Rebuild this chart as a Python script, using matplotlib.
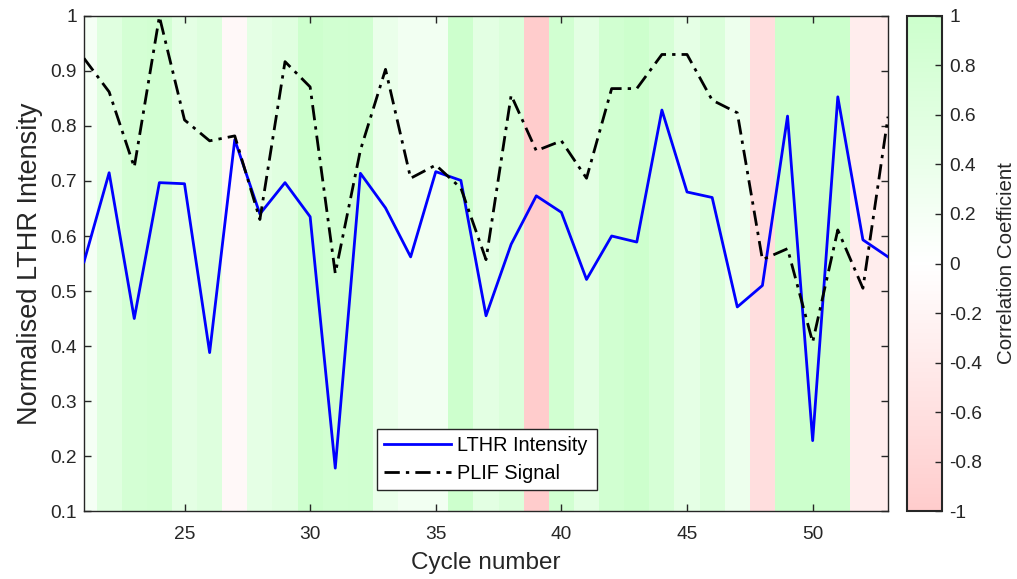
import numpy as np
import matplotlib
matplotlib.use("Agg")
import matplotlib.pyplot as plt
from matplotlib.colors import LinearSegmentedColormap

plt.rcParams['font.family'] = ['Liberation Sans', 'DejaVu Sans']

# Data per combustion cycle
cycles = list(range(21, 54))
lthr = [0.553, 0.715, 0.450, 0.697, 0.695, 0.388, 0.775, 0.640, 0.697, 0.635,
        0.178, 0.714, 0.651, 0.562, 0.717, 0.701, 0.455, 0.585, 0.673, 0.643,
        0.521, 0.600, 0.589, 0.829, 0.680, 0.670, 0.471, 0.510, 0.818, 0.228,
        0.853, 0.593, 0.562]
plif = [0.923, 0.862, 0.725, 0.999, 0.811, 0.773, 0.782, 0.630, 0.917, 0.871,
        0.532, 0.756, 0.903, 0.705, 0.729, 0.687, 0.557, 0.856, 0.755, 0.773,
        0.705, 0.868, 0.868, 0.930, 0.930, 0.847, 0.824, 0.557, 0.577, 0.407,
        0.611, 0.505, 0.817]
corr = [0.20, 0.60, 0.85, 0.88, 0.53, 0.65, -0.14, 0.50, 0.60, 0.98,
        0.90, 0.92, 0.40, 0.25, 0.25, 0.98, 0.55, 0.70, -1.00, 0.90,
        0.55, 0.90, 0.98, 0.80, 0.50, 0.70, 0.35, -0.65, 0.97, 1.00,
        1.00, -0.35, -0.35]

cbar_ticks = [-1, -0.8, -0.6, -0.4, -0.2, 0, 0.2, 0.4, 0.6, 0.8, 1]
y_ticks = [0.1, 0.2, 0.3, 0.4, 0.5, 0.6, 0.7, 0.8, 0.9, 1]
x_ticks = [25, 30, 35, 40, 45, 50]

axis_color = '#262626'
cmap = LinearSegmentedColormap.from_list(
    'redwhitegreen', [(1.0, 0.8, 0.8), (1.0, 1.0, 1.0), (0.8, 1.0, 0.8)])

fig = plt.figure(figsize=(10.17, 5.79), dpi=100)
ax = fig.add_axes([0.0826, 0.1174, 0.7906, 0.855])
cax = fig.add_axes([0.8915, 0.1174, 0.0350, 0.855])

# Background bands, one per cycle, coloured by correlation
c = np.asarray(cycles, dtype=float)
edges = np.concatenate([c - 0.5, [c[-1] + 0.5]])
mesh = ax.pcolormesh(edges, [0.1, 1.0], np.asarray(corr)[np.newaxis, :],
                     cmap=cmap, vmin=-1, vmax=1, shading='flat', zorder=0)

ax.plot(cycles, lthr, color=(0, 0, 1), lw=2.0, label='LTHR Intensity', zorder=3)
ax.plot(cycles, plif, color='black', lw=2.0, ls=(0, (5.5, 2.2, 1.2, 2.2)),
        label='PLIF Signal', zorder=3)

ax.set_xlim(21, 53)
ax.set_ylim(0.1, 1.0)
ax.set_xticks(x_ticks)
ax.set_yticks(y_ticks)
ax.set_yticklabels(['0.1', '0.2', '0.3', '0.4', '0.5', '0.6', '0.7', '0.8', '0.9', '1'])
ax.tick_params(direction='in', length=5, width=1, colors=axis_color,
               labelsize=13.8, top=True, right=True, pad=5)
ax.tick_params(axis='x', pad=11)
for s in ax.spines.values():
    s.set_color(axis_color)
    s.set_linewidth(1.0)
ax.set_xlabel('Cycle number', fontsize=17.5, color=axis_color, labelpad=6)
ax.set_ylabel('Normalised LTHR Intensity', fontsize=19.5, color=axis_color,
              labelpad=5)

leg = ax.legend(loc='lower left', bbox_to_anchor=(0.364, 0.042, 0.274, 0.126),
                mode='expand', fontsize=14.3, frameon=True, fancybox=False,
                handlelength=3.4, borderpad=0.35, labelspacing=0.45,
                handletextpad=0.3, borderaxespad=0)
leg.get_frame().set_edgecolor(axis_color)
leg.get_frame().set_linewidth(1.0)
leg.get_frame().set_alpha(1.0)

cb = fig.colorbar(mesh, cax=cax, ticks=cbar_ticks)
cb.ax.set_yticklabels(['-1', '-0.8', '-0.6', '-0.4', '-0.2', '0', '0.2', '0.4',
                       '0.6', '0.8', '1'])
cb.ax.tick_params(direction='in', length=5, width=1, colors=axis_color,
                  labelsize=13.8, pad=5)
cb.outline.set_edgecolor(axis_color)
cb.outline.set_linewidth(1.5)
cb.set_label('Correlation Coefficient', fontsize=14.8, color=axis_color,
             labelpad=11)

fig.savefig('out.png', dpi=100)
